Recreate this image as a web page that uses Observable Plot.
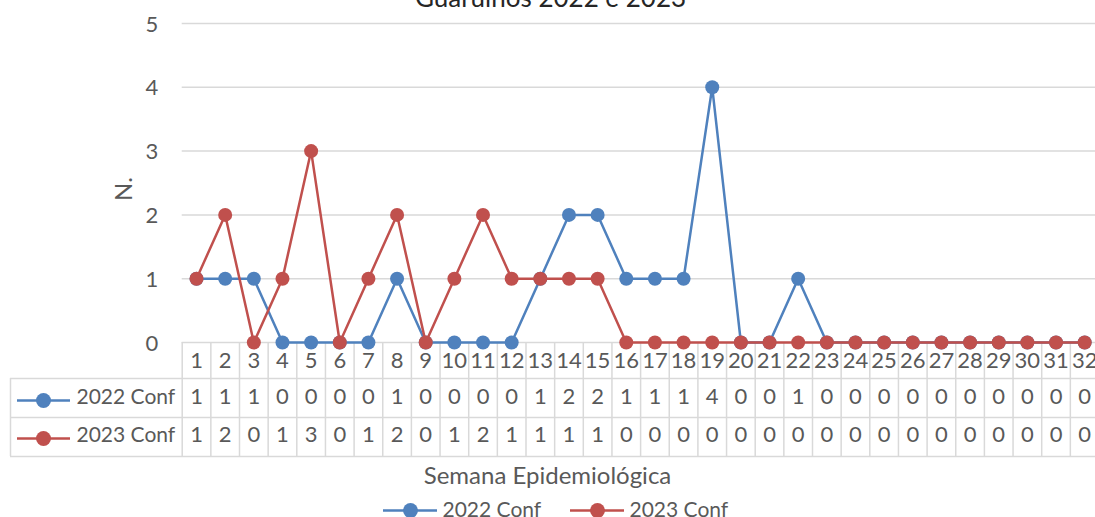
<!DOCTYPE html>
<html><head><meta charset="utf-8">
<script src="https://cdn.jsdelivr.net/npm/d3@7"></script>
<script src="https://cdn.jsdelivr.net/npm/@observablehq/plot@0.6"></script>
<style>body{margin:0;background:#fff} svg{overflow:visible}</style>
</head><body><div id="chart"></div>
<script>
const title = "Guarulhos 2022 e 2023";
const weeks = [1,2,3,4,5,6,7,8,9,10,11,12,13,14,15,16,17,18,19,20,21,22,23,24,25,26,27,28,29,30,31,32];
const conf2022 = [1,1,1,0,0,0,0,1,0,0,0,0,1,2,2,1,1,1,4,0,0,1,0,0,0,0,0,0,0,0,0,0];
const conf2023 = [1,2,0,1,3,0,1,2,0,1,2,1,1,1,1,0,0,0,0,0,0,0,0,0,0,0,0,0,0,0,0,0];
const seriesNames = ["2022 Conf", "2023 Conf"];
const colors = ["#4F81BD", "#C0504D"];
const yTicks = [0,1,2,3,4,5];
const yLabel = "N.";
const xLabel = "Semana Epidemiológica";

const FONT = "Lato, 'Open Sans', sans-serif";
const FS_NUM = 22, FS_KEY = 21, FS_LABEL = 24, FS_TITLE = 26;
const W = 1095, H = 517, ML = 181.7, MT = 23, MB = 175;
const STEP = 28.65;
const gridColor = "#d9d9d9", textColor = "#595959";

const rows = weeks.map((w, i) => ({week: w, c22: conf2022[i], c23: conf2023[i]}));
const bounds = [weeks[0] - 0.5, ...weeks.map(w => w + 0.5)];
const seriesData = [conf2022, conf2023].map((vals, s) => weeks.map((w, i) => ({week: w, v: vals[i], s: seriesNames[s]})));

// table layout offsets (px below the zero line)
const rowLines = [36, 75, 114];
const rowMid = [22, 58, 96];
const textShift = 3;

const marks = [
  Plot.ruleY(yTicks.filter(t => t > 0), {stroke: gridColor, strokeWidth: 1.5}),
  Plot.ruleY([0], {stroke: gridColor, strokeWidth: 1.5}),
  ...rowLines.map(off => Plot.ruleY([0], {dy: off, insetLeft: -(ML - 10), stroke: gridColor, strokeWidth: 1.5})),
  Plot.ruleX(bounds, {x: d => d, insetTop: (H - MB) - MT, insetBottom: -114, stroke: gridColor, strokeWidth: 1.5}),
  Plot.ruleX([bounds[0]], {x: d => d, dx: -(ML - 10), insetTop: (H - MB) - MT + 36, insetBottom: -114, stroke: gridColor, strokeWidth: 1.5}),
  Plot.axisY({ticks: yTicks, tickFormat: "d", tickSize: 0, tickPadding: 24, label: null, fontSize: FS_NUM, fill: textColor, dy: 1}),
  // header row numbers and values
  Plot.text(rows, {x: "week", frameAnchor: "bottom", dy: rowMid[0] + textShift, text: d => String(d.week), fill: textColor, fontSize: FS_NUM}),
  Plot.text(rows, {x: "week", frameAnchor: "bottom", dy: rowMid[1] + textShift, text: d => String(d.c22), fill: textColor, fontSize: FS_NUM}),
  Plot.text(rows, {x: "week", frameAnchor: "bottom", dy: rowMid[2] + textShift, text: d => String(d.c23), fill: textColor, fontSize: FS_NUM}),
  // table legend keys
  ...seriesNames.flatMap((name, s) => [
    Plot.ruleY([0], {dy: rowMid[s + 1], insetLeft: -(ML - 17), insetRight: W - 70, stroke: colors[s], strokeWidth: 2.5}),
    Plot.dot([0], {frameAnchor: "bottom-left", dx: 43 - ML, dy: rowMid[s + 1], r: 7.5, fill: colors[s], stroke: "none"}),
    Plot.text([name], {frameAnchor: "bottom-left", dx: 76 - ML, dy: rowMid[s + 1] + textShift, textAnchor: "start", fill: textColor, fontSize: FS_KEY})
  ]),
  // series
  ...seriesData.flatMap((d, s) => [
    Plot.line(d, {x: "week", y: "v", stroke: colors[s], strokeWidth: 2.5}),
    Plot.dot(d, {x: "week", y: "v", r: 7, fill: colors[s], stroke: "none"})
  ]),
  // titles
  Plot.text([title], {frameAnchor: "top-left", dx: 550 - ML, dy: 6 - MT, lineAnchor: "bottom", textAnchor: "middle", fill: "#262626", fontSize: FS_TITLE}),
  Plot.text([yLabel], {frameAnchor: "left", dx: 124 - ML, dy: 6, rotate: -90, textAnchor: "middle", fill: textColor, fontSize: FS_LABEL}),
  Plot.text([xLabel], {frameAnchor: "bottom-left", dx: 547 - ML, dy: 141, textAnchor: "middle", fill: textColor, fontSize: FS_LABEL}),
  // bottom legend
  ...seriesNames.flatMap((name, s) => {
    const x0 = [383, 570][s];
    return [
      Plot.ruleY([0], {dy: 168, insetLeft: x0 - ML, insetRight: W - (x0 + 54), stroke: colors[s], strokeWidth: 2.5}),
      Plot.dot([0], {frameAnchor: "bottom-left", dx: x0 + 27 - ML, dy: 168, r: 7.5, fill: colors[s], stroke: "none"}),
      Plot.text([name], {frameAnchor: "bottom-left", dx: x0 + 59 - ML, dy: 174, textAnchor: "start", fill: textColor, fontSize: FS_KEY})
    ];
  })
];

const chart = Plot.plot({
  width: W, height: H,
  marginLeft: ML, marginRight: 0, marginTop: MT, marginBottom: MB,
  style: {fontFamily: FONT, fontSize: FS_NUM + "px", color: textColor, background: "#fff", overflow: "visible"},
  x: {type: "linear", domain: [bounds[0], bounds[bounds.length - 1]], range: [ML, ML + STEP * weeks.length], axis: null},
  y: {domain: [0, 5], range: [H - MB, MT], axis: null},
  marks
});
document.getElementById("chart").appendChild(chart);
</script>
</body></html>
